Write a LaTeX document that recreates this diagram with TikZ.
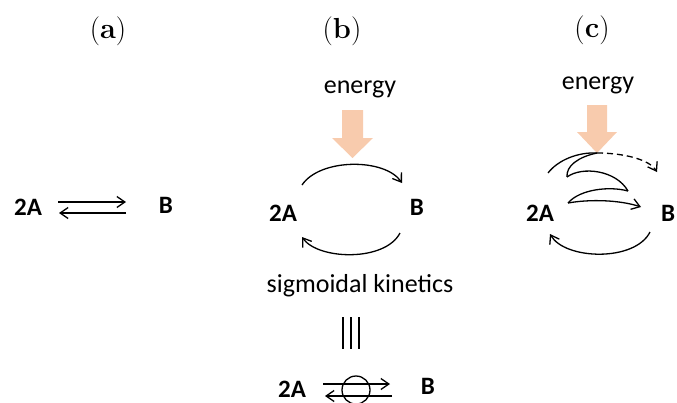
\documentclass[tikz,border=0pt]{standalone}
\usepackage{fontspec}
\newfontfamily\calfont{Carlito}
\usetikzlibrary{arrows.meta}
\definecolor{peach}{RGB}{248,203,173}
\begin{document}
\begin{tikzpicture}[x=1pt,y=-1pt,
  lbl/.style={font=\fontsize{29}{32}\selectfont, inner sep=0pt},
  txt/.style={font=\calfont\fontsize{26}{30}\selectfont, inner sep=0pt, anchor=base},
  chem/.style={font=\calfont\bfseries\fontsize{25}{28}\selectfont, inner sep=0pt},
  rx/.style={line width=1.3pt, -{Straight Barb[length=8pt,width=11pt,line width=1.3pt]}},
  plain/.style={line width=1.3pt},
  boost/.style={fill=peach, draw=none}]
\useasboundingbox (0,0) rectangle (677,402);
% ---------- panel a
\node[lbl] (la) at (108,31) {(\textbf{a})};
\node[chem] (a2A) at (28,207) {2A};
\node[chem] (aB) at (166,205) {B};
\coordinate (a1) at (58,202); \coordinate (a2) at (126,202);
\coordinate (a3) at (126,213); \coordinate (a4) at (59,213);
\draw[rx] (a1) -- (a2);
\draw[rx] (a3) -- (a4);
% ---------- panel b
\node[lbl] (lb) at (342,31) {(\textbf{b})};
\node[txt] (eb) at (360,93) {energy};
\fill[boost] (342,110) -- (363,110) -- (363,138) -- (373,138) -- (352.5,158) -- (332,138) -- (342,138) -- cycle;
\node[chem] (b2A) at (283,213) {2A};
\node[chem] (bB) at (417,207) {B};
\coordinate (b1) at (302,185); \coordinate (b2) at (402,183);
\coordinate (b3) at (400,233); \coordinate (b4) at (302,237);
\draw[rx] (b1) .. controls (320,158) and (385,158) .. (b2);
\draw[rx] (b3) .. controls (385,262) and (318,260) .. (b4);
\node[txt] (sk) at (360,292) {sigmoidal kinetics};
\coordinate (v1) at (343,317); \coordinate (v2) at (343,349);
\coordinate (v3) at (351,317); \coordinate (v4) at (351,349);
\coordinate (v5) at (359,317); \coordinate (v6) at (359,349);
\draw[plain] (v1) -- (v2); \draw[plain] (v3) -- (v4); \draw[plain] (v5) -- (v6);
\node[chem] (e2A) at (292,389) {2A};
\node[chem] (eB) at (428,386) {B};
\coordinate (e1) at (323,384); \coordinate (e2) at (390,384);
\coordinate (e3) at (392,396); \coordinate (e4) at (325,396);
\draw[rx] (e1) -- (e2);
\draw[rx] (e3) -- (e4);
\draw[plain] (356,390) circle (14pt);
% ---------- panel c
\node[lbl] (lc) at (592,30) {(\textbf{c})};
\node[txt] (ec) at (598,89) {energy};
\fill[boost] (587,105) -- (607,105) -- (607,132) -- (617,132) -- (597,153) -- (577,132) -- (587,132) -- cycle;
\node[chem] (c2A) at (540,213) {2A};
\node[chem] (cB) at (668,213) {B};
\coordinate (t) at (597,153);
\coordinate (c0) at (548,173);
\coordinate (c1) at (567,177);
\coordinate (c2) at (628,191);
\coordinate (c3) at (568,203);
\coordinate (c4) at (641,207);
\coordinate (c5) at (657,172);
\draw[plain] (c0) .. controls (558,160) and (578,152) .. (t);
\draw[rx, dash pattern=on 6pt off 4pt] (t) .. controls (625,153) and (650,160) .. (c5);
\draw[plain] (t) .. controls (578,157) and (566,166) .. (c1);
\draw[plain] (c1) .. controls (582,166) and (616,170) .. (c2);
\draw[plain] (c2) .. controls (610,186) and (580,189) .. (c3);
\draw[rx] (c3) .. controls (590,199) and (620,200) .. (c4);
\coordinate (c6) at (650,232); \coordinate (c7) at (550,234);
\draw[rx] (c6) .. controls (635,262) and (565,260) .. (c7);
\end{tikzpicture}
\end{document}
